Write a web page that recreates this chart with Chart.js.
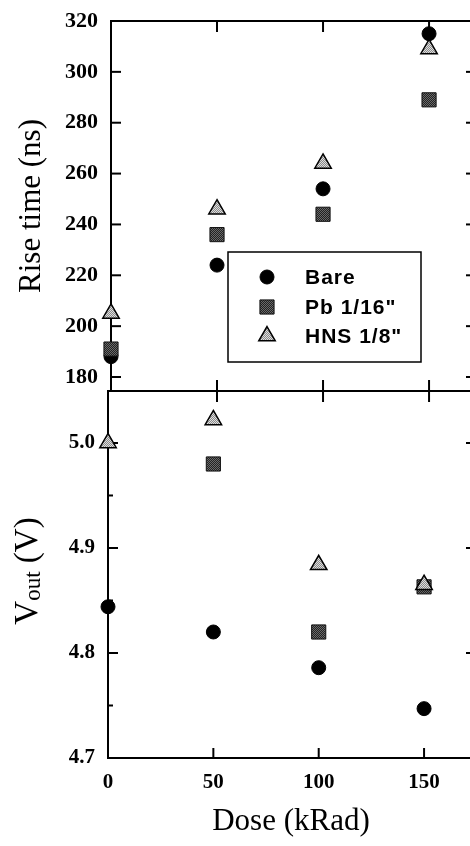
<!DOCTYPE html>
<html>
<head>
<meta charset="utf-8">
<script src="https://cdn.jsdelivr.net/npm/chart.js@4.4.1/dist/chart.umd.min.js"></script>
<style>
  html, body { margin: 0; padding: 0; background: #fff; }
  #wrap { position: relative; width: 470px; height: 846px; overflow: hidden; background: #fff; }
  #top { position: absolute; left: 0; top: 0; }
  #bot { position: absolute; left: 0; top: 380px; }
</style>
</head>
<body>
<div id="wrap">
  <canvas id="top" width="490" height="410"></canvas>
  <canvas id="bot" width="490" height="466"></canvas>
</div>
<script>
// ---- data ----
const DOSE = [0, 50, 100, 150];
const SERIES_NAMES = ['Bare', 'Pb 1/16"', 'HNS 1/8"'];
const RISE_BARE = [188, 224, 254, 315];
const RISE_PB   = [191, 236, 244, 289];
const RISE_HNS  = [205, 246, 264, 309];
const VOUT_BARE = [4.844, 4.820, 4.786, 4.747];
const VOUT_PB   = [null, 4.980, 4.820, 4.863];
const VOUT_HNS  = [5.000, 5.022, 4.884, 4.865];
const RISE_TICKS = [180, 200, 220, 240, 260, 280, 300, 320];
const VOUT_TICKS = [4.7, 4.8, 4.9, 5.0];
const VOUT_MINOR = [4.75, 4.85, 4.95];
const DOSE_TICKS = [0, 50, 100, 150];

const SERIF = "'Liberation Serif', 'Times New Roman', serif";
const SANS = "'Liberation Sans', Arial, sans-serif";

function dither(a, b) {
  const c = document.createElement('canvas');
  c.width = c.height = 2;
  const g = c.getContext('2d');
  g.fillStyle = a; g.fillRect(0, 0, 2, 2);
  g.fillStyle = b; g.fillRect(0, 0, 1, 1); g.fillRect(1, 1, 1, 1);
  return document.createElement('canvas').getContext('2d').createPattern(c, 'repeat');
}
const TRI_FILL = dither('#8a8a8a', '#dedede');
const SQ_FILL = dither('#222222', '#6a6a6a');

const STYLES = [
  { pointStyle: 'circle', pointRadius: 7, pointBackgroundColor: '#000', pointBorderColor: '#000', pointBorderWidth: 1, order: 3 },
  { pointStyle: 'rect', pointRadius: 10, pointBackgroundColor: SQ_FILL, pointBorderColor: '#111', pointBorderWidth: 1, order: 2 },
  { pointStyle: 'triangle', pointRadius: 9.5, pointBackgroundColor: TRI_FILL, pointBorderColor: '#000', pointBorderWidth: 1.5, order: 1 }
];

function makeDatasets(series) {
  return series.map((vals, i) => Object.assign({
    label: SERIES_NAMES[i],
    data: DOSE.map((d, j) => ({ x: d, y: vals[j] })),
    showLine: false,
    clip: false,
    pointHoverRadius: STYLES[i].pointRadius
  }, STYLES[i]));
}

const frameTicks = {
  id: 'frameTicks',
  beforeDatasetsDraw(chart, args, o) {
    const { ctx, chartArea: a, scales: { x, y } } = chart;
    ctx.save();
    ctx.strokeStyle = '#000';
    ctx.lineWidth = 2;
    const line = (x1, y1, x2, y2) => { ctx.beginPath(); ctx.moveTo(x1, y1); ctx.lineTo(x2, y2); ctx.stroke(); };
    ctx.strokeRect(a.left, a.top, a.right - a.left, a.bottom - a.top);
    o.yMajor.forEach(v => {
      const py = y.getPixelForValue(v);
      line(a.left, py, a.left + 10, py);
      line(a.right - 8, py, a.right, py);
    });
    (o.yMinor || []).forEach(v => {
      const py = y.getPixelForValue(v);
      line(a.left, py, a.left + 5, py);
    });
    o.xTicks.forEach(v => {
      if (v === 0) return;
      const px = x.getPixelForValue(v);
      if (o.topLen) line(px, a.top, px, a.top + o.topLen);
      if (o.botUp || o.botDown) line(px, a.bottom - (o.botUp || 0), px, a.bottom + (o.botDown || 0));
    });
    ctx.restore();
  }
};

const legendBox = {
  id: 'legendBox',
  afterDraw(chart, args, o) {
    if (!o.show) return;
    const ctx = chart.ctx;
    ctx.save();
    ctx.strokeStyle = '#000';
    ctx.lineWidth = 1.5;
    ctx.fillStyle = '#fff';
    ctx.fillRect(228, 252, 193, 110);
    ctx.strokeRect(228, 252, 193, 110);
    const rows = [277, 307, 336];
    SERIES_NAMES.forEach((name, i) => {
      const s = STYLES[i];
      ctx.fillStyle = s.pointBackgroundColor;
      ctx.strokeStyle = s.pointBorderColor;
      ctx.lineWidth = s.pointBorderWidth;
      Chart.helpers.drawPoint(ctx, { pointStyle: s.pointStyle, radius: s.pointRadius, rotation: 0, borderWidth: s.pointBorderWidth }, 267, rows[i]);
      ctx.fillStyle = '#000';
      ctx.font = 'bold 21px ' + SANS;
      try { ctx.letterSpacing = '1px'; } catch (e) {}
      ctx.textAlign = 'left';
      ctx.textBaseline = 'middle';
      ctx.fillText(name, 305, rows[i] + 1);
    });
    ctx.restore();
  }
};

const voutTitle = {
  id: 'voutTitle',
  afterDraw(chart, args, o) {
    if (!o.show) return;
    const ctx = chart.ctx;
    ctx.save();
    ctx.fillStyle = '#000';
    ctx.textBaseline = 'middle';
    ctx.textAlign = 'left';
    const big = '33px ' + SERIF, small = '23px ' + SERIF;
    ctx.font = big; const w1 = ctx.measureText('V').width; const w3 = ctx.measureText(' (V)').width;
    ctx.font = small; const w2 = ctx.measureText('out').width;
    const total = w1 + w2 + w3;
    const cy = 571 - 380; // canvas coords
    ctx.translate(28, cy);
    ctx.rotate(-Math.PI / 2);
    let xx = -total / 2;
    ctx.font = big; ctx.fillText('V', xx, 0); xx += w1;
    ctx.font = small; ctx.fillText('out', xx, 6); xx += w2;
    ctx.font = big; ctx.fillText(' (V)', xx, 0);
    ctx.restore();
  }
};

const noPadY = s => { s.paddingTop = 0; s.paddingBottom = 0; };
const noPadX = s => { s.paddingLeft = 0; s.paddingRight = 0; };

Chart.defaults.color = '#000';
Chart.defaults.font.family = SERIF;

// ---- top panel: rise time ----
new Chart(document.getElementById('top'), {
  type: 'scatter',
  data: { datasets: makeDatasets([RISE_BARE, RISE_PB, RISE_HNS]) },
  options: {
    responsive: false,
    animation: false,
    events: [],
    layout: { padding: { top: 21, bottom: 19, left: 0, right: 16 } },
    scales: {
      x: {
        type: 'linear', min: 0, max: 171.2, display: false,
        afterBuildTicks: s => { s.ticks = DOSE_TICKS.map(v => ({ value: v })); },
        afterFit: noPadX
      },
      y: {
        type: 'linear', min: 174.5, max: 320,
        afterBuildTicks: s => { s.ticks = RISE_TICKS.map(v => ({ value: v })); },
        afterFit: s => { s.width = 111; noPadY(s); },
        grid: { display: false, drawTicks: false },
        border: { display: false },
        ticks: { padding: 13, font: { family: SERIF, size: 22, weight: 'bold' }, color: '#000', callback: v => String(v) },
        title: { display: true, text: 'Rise time (ns)', font: { family: SERIF, size: 31, weight: 'normal' }, color: '#000', padding: { top: 13, bottom: 0 } }
      }
    },
    plugins: {
      legend: { display: false },
      tooltip: { enabled: false },
      frameTicks: { yMajor: RISE_TICKS, xTicks: DOSE_TICKS, topLen: 11, botUp: 11, botDown: 11 },
      legendBox: { show: true },
      voutTitle: { show: false }
    }
  },
  plugins: [frameTicks, legendBox, voutTitle]
});

// ---- bottom panel: Vout ----
new Chart(document.getElementById('bot'), {
  type: 'scatter',
  data: { datasets: makeDatasets([VOUT_BARE, VOUT_PB, VOUT_HNS]) },
  options: {
    responsive: false,
    animation: false,
    events: [],
    layout: { padding: { top: 11, bottom: 0, left: 0, right: 16 } },
    scales: {
      x: {
        type: 'linear', min: 0, max: 173.7,
        afterBuildTicks: s => { s.ticks = DOSE_TICKS.map(v => ({ value: v })); },
        afterFit: s => { s.height = 88; noPadX(s); },
        grid: { display: false, drawTicks: false },
        border: { display: false },
        ticks: { padding: 12, autoSkip: false, maxRotation: 0, font: { family: SERIF, size: 21, weight: 'bold' }, color: '#000', callback: v => String(v) },
        title: { display: true, text: 'Dose (kRad)', font: { family: SERIF, size: 31, weight: 'normal' }, color: '#000', padding: { top: 0, bottom: 6 } }
      },
      y: {
        type: 'linear', min: 4.7, max: 5.0495,
        afterBuildTicks: s => { s.ticks = VOUT_TICKS.map(v => ({ value: v })); },
        afterFit: s => { s.width = 108; noPadY(s); },
        grid: { display: false, drawTicks: false },
        border: { display: false },
        ticks: { padding: 13, font: { family: SERIF, size: 21, weight: 'bold' }, color: '#000', callback: v => Number(v).toFixed(1) }
      }
    },
    plugins: {
      legend: { display: false },
      tooltip: { enabled: false },
      frameTicks: { yMajor: VOUT_TICKS.filter(v => v > 4.7 && v < 5.04), yMinor: VOUT_MINOR, xTicks: DOSE_TICKS, botUp: 10 },
      legendBox: { show: false },
      voutTitle: { show: true }
    }
  },
  plugins: [frameTicks, legendBox, voutTitle]
});
</script>
</body>
</html>
